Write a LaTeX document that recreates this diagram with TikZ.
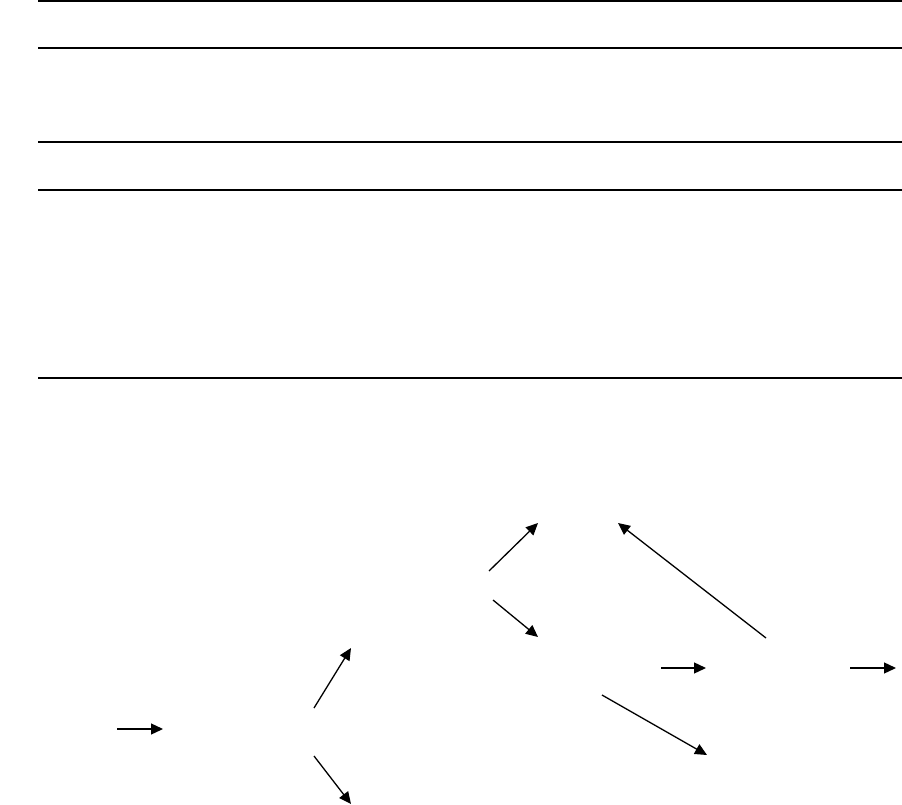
\documentclass[tikz,border=0pt]{standalone}
\usetikzlibrary{arrows.meta}
\begin{document}
\begin{tikzpicture}[x=1pt,y=-1pt,
  rule/.style={line width=1.3pt},
  conn/.style={line width=1.3pt,-{Triangle[length=12pt,width=11pt]}}]
\useasboundingbox (0,0) rectangle (902,805);
% horizontal rules
\foreach \yy/\nm in {1/r1,48/r2,142/r3,190/r4,378/r5}{
  \coordinate (\nm a) at (38,\yy);
  \coordinate (\nm b) at (902,\yy);
  \draw[rule] (\nm a) -- (\nm b);
}
% arrow endpoints
\coordinate (a1s) at (117,729); \coordinate (a1e) at (163,729);
\coordinate (a2s) at (314,708); \coordinate (a2e) at (351,648);
\coordinate (a3s) at (314,756); \coordinate (a3e) at (351,804);
\coordinate (a4s) at (489,571); \coordinate (a4e) at (538,523);
\coordinate (a5s) at (493,600); \coordinate (a5e) at (538,637);
\coordinate (a6s) at (766,638); \coordinate (a6e) at (618,523);
\coordinate (a7s) at (661,668); \coordinate (a7e) at (706,668);
\coordinate (a8s) at (850,668); \coordinate (a8e) at (896,668);
\coordinate (a9s) at (602,695); \coordinate (a9e) at (707,755);
\foreach \i in {1,...,9}{
  \draw[conn] (a\i s) -- (a\i e);
}
\end{tikzpicture}
\end{document}
